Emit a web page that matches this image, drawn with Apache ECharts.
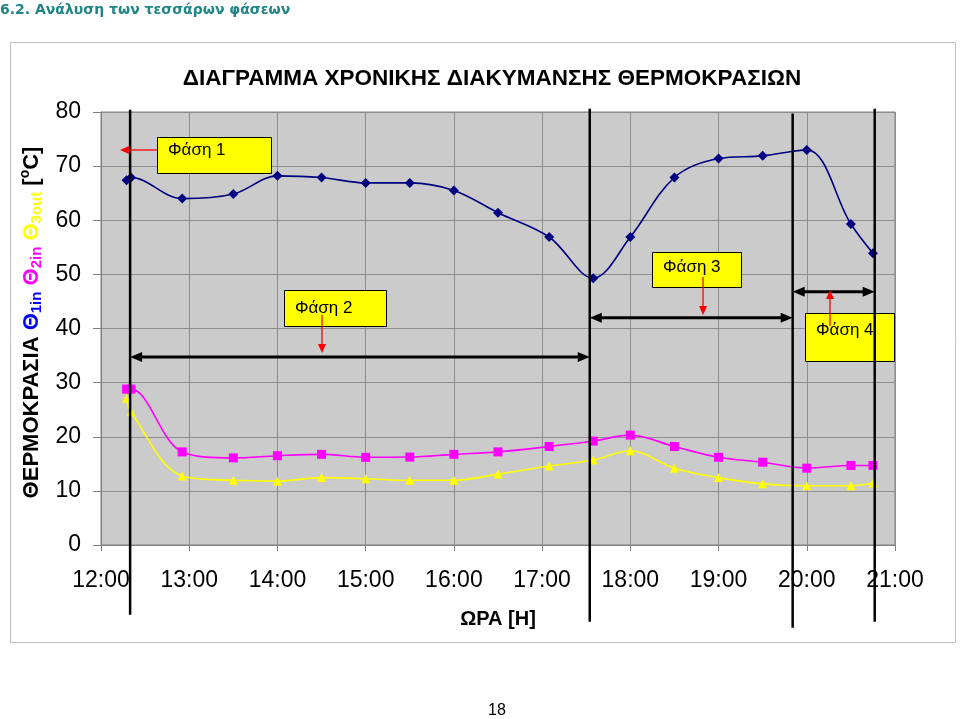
<!DOCTYPE html>
<html><head><meta charset="utf-8">
<script src="https://cdn.jsdelivr.net/npm/echarts@6/dist/echarts.min.js"></script>
<style>html,body{margin:0;padding:0;background:#fff;}#c{width:960px;height:719px;}</style>
</head><body><div id="c"></div>
<script>
// ---- data (hours as decimal) ----
const times     = [12.29, 12.34, 12.92, 13.5, 14.0, 14.5, 15.0, 15.5, 16.0, 16.5, 17.08, 17.58, 18.0, 18.5, 19.0, 19.5, 20.0, 20.5, 20.75];
const theta1in  = [67.4, 67.9, 64.0, 64.85, 68.2, 67.9, 66.9, 66.9, 65.5, 61.4, 56.9, 49.3, 56.9, 67.9, 71.4, 71.9, 73.0, 59.3, 53.9];
const theta2in  = [28.8, 28.8, 17.2, 16.1, 16.5, 16.75, 16.2, 16.25, 16.75, 17.2, 18.2, 19.2, 20.3, 18.2, 16.2, 15.3, 14.2, 14.7, 14.7];
const theta3out = [27.1, 24.6, 12.75, 11.95, 11.8, 12.45, 12.25, 11.95, 11.95, 13.1, 14.6, 15.7, 17.4, 14.2, 12.45, 11.3, 10.95, 10.95, 11.45];
const xTickLabels = ['12:00','13:00','14:00','15:00','16:00','17:00','18:00','19:00','20:00','21:00'];
const phaseBounds = [12.33, 17.54, 19.84, 20.77];
const phaseNames  = ['Φάση 1','Φάση 2','Φάση 3','Φάση 4'];

function pairs(ys){ return times.map((t,i)=>[t, ys[i]]); }

const chart = echarts.init(document.getElementById('c'), null, {renderer:'canvas'});
const FONT = 'Arial, "Liberation Sans", sans-serif';

chart.setOption({
  animation:false,
  backgroundColor:'#ffffff',
  title:{
    text:'ΔΙΑΓΡΑΜΜΑ ΧΡΟΝΙΚΗΣ ΔΙΑΚΥΜΑΝΣΗΣ ΘΕΡΜΟΚΡΑΣΙΩΝ',
    left:487, top:62, textAlign:'center',
    textStyle:{fontFamily:FONT, fontSize:22.5, fontWeight:'bold', color:'#000'}
  },
  grid:{left:101, right:65, top:112, bottom:174, show:true, backgroundColor:'#cbcbcb', borderColor:'#808080', borderWidth:1},
  xAxis:{
    type:'value', min:12, max:21, interval:1,
    name:'ΩPA [H]', nameLocation:'middle', nameGap:64,
    nameTextStyle:{fontFamily:FONT, fontSize:20, fontWeight:'bold', color:'#000'},
    axisLine:{show:true, lineStyle:{color:'#808080', width:1}},
    axisTick:{show:true, length:6, lineStyle:{color:'#808080'}},
    axisLabel:{fontFamily:FONT, fontSize:23, color:'#000', margin:24,
      formatter:v=>xTickLabels[Math.round(v-12)]},
    splitLine:{show:true, lineStyle:{color:'#8e8e8e', width:1}}
  },
  yAxis:{
    type:'value', min:0, max:80, interval:10,
    name:'{k|ΘΕΡΜΟΚΡΑΣΙΑ }{b|Θ}{bs|1in}{k| }{m|Θ}{ms|2in}{k| }{y|Θ}{ys|3out}{k| [}{sup|o}{k|C]}',
    nameLocation:'middle', nameRotate:90, nameGap:56,
    nameTextStyle:{
      fontFamily:FONT, fontSize:22, fontWeight:'bold', color:'#000', padding:[0,0,0,12],
      rich:{
        k:{fontFamily:FONT, fontSize:22, fontWeight:'bold', color:'#000', lineHeight:26},
        b:{fontFamily:FONT, fontSize:22, fontWeight:'bold', color:'#0000ff', lineHeight:26},
        bs:{fontFamily:FONT, fontSize:15, fontWeight:'bold', color:'#0000ff', verticalAlign:'bottom', lineHeight:26},
        m:{fontFamily:FONT, fontSize:22, fontWeight:'bold', color:'#ff00ff', lineHeight:26},
        ms:{fontFamily:FONT, fontSize:15, fontWeight:'bold', color:'#ff00ff', verticalAlign:'bottom', lineHeight:26},
        y:{fontFamily:FONT, fontSize:22, fontWeight:'bold', color:'#ffff00', lineHeight:26},
        ys:{fontFamily:FONT, fontSize:15, fontWeight:'bold', color:'#ffff00', verticalAlign:'bottom', lineHeight:26},
        sup:{fontFamily:FONT, fontSize:14, fontWeight:'bold', color:'#000', verticalAlign:'top', lineHeight:26}
      }
    },
    axisLine:{show:true, lineStyle:{color:'#808080', width:1}},
    axisTick:{show:true, length:8, lineStyle:{color:'#808080'}},
    axisLabel:{fontFamily:FONT, fontSize:23, color:'#000', margin:20},
    splitLine:{show:true, lineStyle:{color:'#8e8e8e', width:1}}
  },
  series:[
    {name:'Θ1in', type:'line', data:pairs(theta1in), smooth:0.35, symbol:'diamond', symbolSize:10,
     lineStyle:{color:'#000080', width:1.6}, itemStyle:{color:'#000080'}, z:3},
    {name:'Θ2in', type:'line', data:pairs(theta2in), smooth:0.35, symbol:'rect', symbolSize:9,
     lineStyle:{color:'#ff00ff', width:1.6}, itemStyle:{color:'#ff00ff'}, z:3},
    {name:'Θ3out', type:'line', data:pairs(theta3out), smooth:0.35, symbol:'triangle', symbolSize:9,
     lineStyle:{color:'#ffff00', width:1.6}, itemStyle:{color:'#ffff00'}, z:3}
  ]
});

// ---- annotations, positioned in data coordinates ----
function P(t,v){ return chart.convertToPixel({gridIndex:0},[t,v]); }
const g = [];
// page decorations
g.push({type:'text', left:0, top:3, style:{text:'6.2. Ανάλυση των τεσσάρων φάσεων', fill:'#1f8585', font:'bold 14px "DejaVu Sans", Verdana, sans-serif'}});
g.push({type:'rect', shape:{x:10.5, y:42.5, width:945, height:600}, style:{fill:'none', stroke:'#c0c0c0', lineWidth:1}, z:-1});
g.push({type:'text', x:497, y:711, style:{text:'18', fill:'#000', font:'16px Arial, "Liberation Sans", sans-serif', textAlign:'center', textVerticalAlign:'middle'}});

function head(tip, dx, dy, len, w, color){
  const px = -dy, py = dx;
  return {type:'polygon', z:60, shape:{points:[
    [tip[0], tip[1]],
    [tip[0]-dx*len + px*w/2, tip[1]-dy*len + py*w/2],
    [tip[0]-dx*len - px*w/2, tip[1]-dy*len - py*w/2]
  ]}, style:{fill:color}};
}
function arrowLine(a, b, color, width, len, w, both){
  const dx=b[0]-a[0], dy=b[1]-a[1], L=Math.hypot(dx,dy), ux=dx/L, uy=dy/L;
  const s = both ? [a[0]+ux*len*0.8, a[1]+uy*len*0.8] : a;
  const e = [b[0]-ux*len*0.8, b[1]-uy*len*0.8];
  g.push({type:'line', z:59, shape:{x1:s[0],y1:s[1],x2:e[0],y2:e[1]}, style:{stroke:color, lineWidth:width}});
  g.push(head(b, ux, uy, len, w, color));
  if(both) g.push(head(a, -ux, -uy, len, w, color));
}

// vertical phase boundary lines
const vTop = [80.4, 80.6, 79.7, 80.6], vBot = [-12.9, -14.2, -15.3, -14.2];
phaseBounds.forEach((t,i)=>{
  const a=P(t,vTop[i]), b=P(t,vBot[i]);
  g.push({type:'line', z:58, shape:{x1:a[0],y1:a[1],x2:b[0],y2:b[1]}, style:{stroke:'#000', lineWidth:2.5}});
});
// double arrows spanning phases
const spanLevels = [34.73, 42.0, 46.8];
for(let i=0;i<3;i++){
  arrowLine(P(phaseBounds[i], spanLevels[i]), P(phaseBounds[i+1], spanLevels[i]), '#000', 3, 12, 10, true);
}
// label boxes [t1, vTop, t2, vBottom]
const boxes = [
  [12.635, 75.38, 13.927, 68.73],
  [14.074, 47.11, 15.231, 40.46],
  [18.246, 54.13, 19.255, 47.67],
  [19.98, 42.86, 20.989, 34.0]
];
const textMid = [73.0, 43.8, 51.3, 39.7];
boxes.forEach((b,i)=>{
  const p1=P(b[0],b[1]), p2=P(b[2],b[3]);
  g.push({type:'rect', z:50, shape:{x:Math.round(p1[0])+0.5, y:Math.round(p1[1])+0.5, width:Math.round(p2[0]-p1[0]), height:Math.round(p2[1]-p1[1])},
    style:{fill:'#ffff00', stroke:'#000', lineWidth:1}});
  const tp=P(b[0], textMid[i]);
  g.push({type:'text', z:51, x:tp[0]+11, y:tp[1], style:{text:phaseNames[i], fill:'#000', font:'17px Arial, "Liberation Sans", sans-serif', textVerticalAlign:'middle'}});
});
// red pointers [tStart, vStart, tEnd, vEnd]
const pointers = [
  [12.635, 72.98, 12.215, 72.98],
  [14.505, 42.49, 14.505, 35.47],
  [18.824, 49.5, 18.824, 42.49],
  [20.263, 40.46, 20.263, 47.11]
];
pointers.forEach(p=>{
  arrowLine(P(p[0],p[1]), P(p[2],p[3]), '#ff0000', 1.3, 9, 8, false);
});
chart.setOption({graphic:g});
</script>
</body></html>
